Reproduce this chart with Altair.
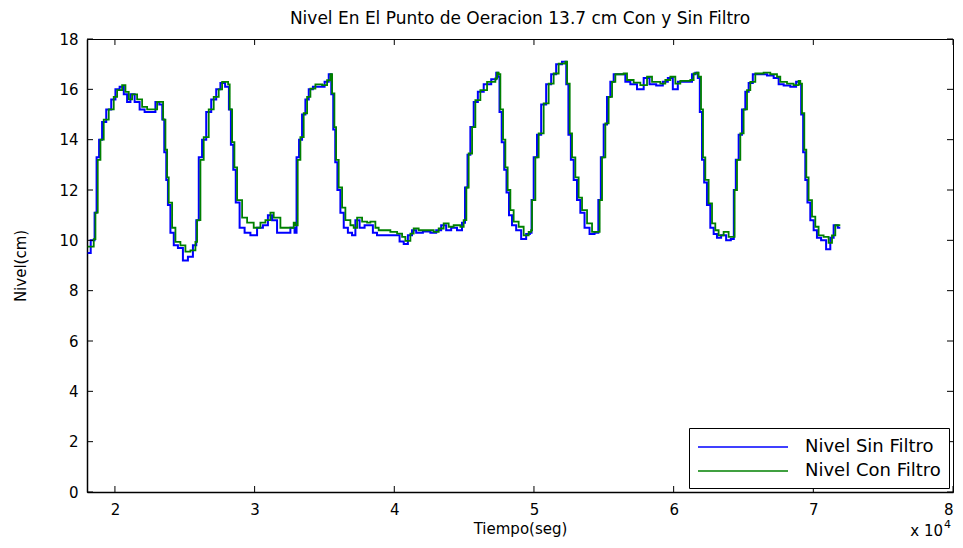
import altair as alt
import pandas as pd

# ---- data ----
tiempo = [18050, 18483, 18604, 18769, 18962, 19198, 19556, 19914, 20157, 20515,
          20752, 20988, 21231, 21589, 21947, 22305, 22777, 23021, 23328, 23450,
          23615, 23736, 23851, 24094, 24331, 24688, 25046, 25404, 25762, 25884,
          26120, 26356, 26714, 27072, 27430, 27673, 28103, 28217, 28389, 28554,
          28747, 29105, 29463, 29935, 30415, 30773, 31131, 31367, 31846, 32326,
          32798, 32920, 33085, 33278, 33514, 33758, 33994, 34352, 34831, 35189,
          35425, 35547, 35712, 35834, 36020, 36263, 36499, 36857, 37093, 37337,
          37695, 38053, 38289, 38646, 38883, 39720, 40200, 40558, 40794, 41152,
          41388, 41746, 42347, 42820, 43178, 43535, 43893, 44251, 44731, 44967,
          45160, 45325, 45569, 45804, 46162, 46642, 47236, 47358, 47472, 47594,
          47787, 47952, 48117, 48310, 48546, 48904, 49262, 49620, 49792, 49863,
          50099, 50336, 50694, 51051, 51409, 51767, 52251, 52373, 52559, 52726,
          52963, 53199, 53442, 53800, 54158, 54516, 54702, 54874, 55110, 55346,
          55590, 55826, 56420, 56663, 57136, 57615, 58095, 58453, 59047, 59405,
          59763, 60120, 60478, 61194, 61430, 61674, 61788, 61960, 62103, 62267,
          62504, 62748, 62983, 63220, 63578, 63936, 64251, 64365, 64537, 64773,
          65010, 65253, 65489, 65847, 66441, 66921, 67400, 67636, 68116, 68588,
          68946, 69068, 69190, 69354, 69498, 69662, 69906, 70142, 70378, 70736,
          71094, 71337, 71573, 71931]

con_filtro = [9.75, 10.05, 11.1, 13.2, 14.0, 14.8, 15.2, 15.7, 15.97, 16.17,
              15.9, 15.6, 15.8, 15.6, 15.3, 15.2, 15.2, 15.5, 15.5, 14.8,
              13.6, 12.5, 11.5, 10.5, 9.94, 9.8, 9.55, 9.6, 9.94, 10.8,
              13.2, 14.1, 15.2, 15.7, 16.0, 16.3, 16.2, 15.2, 13.9, 12.9,
              11.6, 10.9, 10.7, 10.5, 10.7, 10.8, 11.1, 10.9, 10.5, 10.5,
              10.7, 10.6, 13.2, 14.1, 15.05, 15.7, 16.03, 16.2, 16.17, 16.36,
              16.6, 15.84, 14.5, 13.2, 12.1, 11.3, 10.8, 10.6, 10.5, 10.9,
              10.74, 10.7, 10.74, 10.5, 10.4, 10.34, 10.27, 10.14, 9.98, 10.27,
              10.47, 10.4, 10.4, 10.34, 10.47, 10.67, 10.54, 10.6, 10.54, 10.8,
              12.1, 13.45, 14.5, 15.57, 15.97, 16.3, 16.43, 16.66, 16.6, 15.2,
              14.0, 12.9, 12.0, 11.2, 10.74, 10.54, 10.2, 10.34, 10.4, 11.6,
              13.3, 14.25, 15.44, 16.23, 16.63, 17.02, 17.1, 16.23, 14.25, 13.3,
              12.5, 11.7, 11.2, 10.67, 10.34, 10.34, 11.6, 13.3, 14.65, 15.7,
              16.3, 16.6, 16.63, 16.37, 16.27, 16.17, 16.5, 16.3, 16.23, 16.37,
              16.5, 16.23, 16.34, 16.37, 16.63, 16.66, 16.5, 15.2, 13.3, 12.4,
              11.47, 10.67, 10.4, 10.2, 10.34, 10.14, 10.14, 12.0, 13.2, 14.25,
              15.2, 15.97, 16.3, 16.63, 16.66, 16.6, 16.5, 16.3, 16.23, 16.17,
              16.34, 16.23, 15.05, 13.6, 12.5, 11.6, 10.94, 10.54, 10.2, 10.14,
              9.9, 10.2, 10.6, 10.6]

sin_filtro = [9.5, 10.0, 11.1, 13.3, 14.0, 14.7, 15.2, 15.6, 16.0, 16.1,
              15.8, 15.5, 15.8, 15.5, 15.2, 15.1, 15.1, 15.5, 15.4, 14.8,
              13.5, 12.4, 11.4, 10.3, 9.8, 9.7, 9.2, 9.35, 9.8, 10.8,
              13.3, 14.0, 15.1, 15.6, 16.0, 16.25, 16.1, 15.2, 13.8, 12.8,
              11.5, 10.5, 10.3, 10.2, 10.5, 10.6, 11.0, 10.8, 10.3, 10.3,
              10.5, 10.3, 13.3, 14.0, 15.0, 15.6, 16.0, 16.1, 16.1, 16.3,
              16.6, 15.8, 14.4, 13.1, 12.0, 11.1, 10.5, 10.3, 10.2, 10.8,
              10.5, 10.6, 10.6, 10.3, 10.2, 10.2, 10.2, 9.95, 9.85, 10.2,
              10.4, 10.3, 10.35, 10.3, 10.4, 10.6, 10.4, 10.5, 10.4, 10.7,
              12.1, 13.4, 14.5, 15.5, 15.9, 16.2, 16.4, 16.66, 16.5, 15.1,
              13.9, 12.8, 11.9, 11.0, 10.6, 10.4, 10.05, 10.25, 10.3, 11.6,
              13.3, 14.2, 15.4, 16.2, 16.6, 17.0, 17.1, 16.2, 14.2, 13.2,
              12.4, 11.6, 11.1, 10.5, 10.25, 10.3, 11.6, 13.3, 14.6, 15.7,
              16.3, 16.6, 16.6, 16.3, 16.2, 16.0, 16.45, 16.2, 16.15, 16.3,
              16.45, 16.0, 16.3, 16.3, 16.6, 16.66, 16.45, 15.1, 13.2, 12.3,
              11.4, 10.5, 10.25, 10.1, 10.2, 10.0, 10.05, 12.0, 13.2, 14.2,
              15.2, 15.9, 16.25, 16.6, 16.6, 16.55, 16.45, 16.2, 16.15, 16.1,
              16.3, 16.2, 15.0, 13.5, 12.4, 11.5, 10.8, 10.4, 10.1, 10.0,
              9.65, 10.1, 10.6, 10.5]

series = ["Nivel Sin Filtro", "Nivel Con Filtro"]
colors = ["#0000ff", "#008000"]
x_ticks = [20000, 30000, 40000, 50000, 60000, 70000, 80000]
y_ticks = [0, 2, 4, 6, 8, 10, 12, 14, 16, 18]
exponent_text = ["x 10", "4"]
title_text = "Nivel En El Punto de Oeracion 13.7 cm Con y Sin Filtro"

W, H = 866, 453
FONT = "DejaVu Sans"

n = len(tiempo)
df = pd.DataFrame({
    "t": tiempo + tiempo,
    "nivel": sin_filtro + con_filtro,
    "serie": [series[0]] * n + [series[1]] * n,
})
df_xt = pd.DataFrame({"t": x_ticks})
df_yt = pd.DataFrame({"nivel": y_ticks})

x_scale = alt.Scale(domain=[18000, 80000], nice=False, zero=False)
y_scale = alt.Scale(domain=[0, 18], nice=False, zero=False)

x_axis = alt.Axis(values=x_ticks, labelExpr="datum.value / 10000", title="Tiempo(seg)",
                  ticks=False, tickSize=0, labelPadding=10, titlePadding=4,
                  grid=False, domain=True, domainColor="black", domainWidth=1.5,
                  labelFont=FONT, titleFont=FONT, labelFontSize=15, titleFontSize=15,
                  labelColor="black", titleColor="black", titleFontWeight="normal")
y_axis = alt.Axis(values=y_ticks, title="Nivel(cm)", ticks=False, tickSize=0,
                  labelPadding=9, titlePadding=30, grid=False, domain=True,
                  domainColor="black", domainWidth=1.5,
                  labelFont=FONT, titleFont=FONT, labelFontSize=15, titleFontSize=15,
                  labelColor="black", titleColor="black", titleFontWeight="normal")

X = alt.X("t:Q", scale=x_scale, axis=x_axis)
Y = alt.Y("nivel:Q", scale=y_scale, axis=y_axis)

color = alt.Color(
    "serie:N",
    scale=alt.Scale(domain=series, range=colors),
    sort=series,
    legend=alt.Legend(title=None, orient="bottom-right", offset=4,
                      symbolType="M-1,0H8", symbolSize=400, symbolStrokeWidth=1.5,
                      labelFont=FONT, labelFontSize=18, labelColor="black",
                      labelOffset=86, padding=8, rowPadding=4, fillColor="white",
                      strokeColor="black"),
)

base = alt.Chart(df)
blue = base.transform_filter(alt.datum.serie == series[0]).mark_line(
    interpolate="step", strokeWidth=2).encode(x=X, y=Y, color=color)
green = base.transform_filter(alt.datum.serie == series[1]).mark_line(
    interpolate="step-after", strokeWidth=1.8).encode(x=X, y=Y, color=color)

xt_bottom = alt.Chart(df_xt).mark_rule(color="black").encode(
    x=X, y=alt.value(H), y2=alt.value(H - 6))
xt_top = alt.Chart(df_xt).mark_rule(color="black").encode(
    x=X, y=alt.value(0), y2=alt.value(6))
yt_left = alt.Chart(df_yt).mark_rule(color="black").encode(
    y=Y, x=alt.value(0), x2=alt.value(6))
yt_right = alt.Chart(df_yt).mark_rule(color="black").encode(
    y=Y, x=alt.value(W), x2=alt.value(W - 6))

exp_base = alt.Chart(pd.DataFrame({"s": [exponent_text[0]]})).mark_text(
    align="right", baseline="alphabetic", font=FONT, fontSize=15, color="black"
).encode(text="s:N", x=alt.value(W - 10), y=alt.value(H + 44))
exp_sup = alt.Chart(pd.DataFrame({"s": [exponent_text[1]]})).mark_text(
    align="left", baseline="alphabetic", font=FONT, fontSize=11, color="black"
).encode(text="s:N", x=alt.value(W - 9), y=alt.value(H + 36))

chart = alt.layer(
    blue, green, xt_bottom, xt_top, yt_left, yt_right, exp_base, exp_sup
).properties(
    width=W, height=H,
    title=alt.TitleParams(title_text, font=FONT, fontSize=17, fontWeight="normal",
                          color="black", offset=4, anchor="middle"),
    padding={"left": 79, "top": 31, "right": 2, "bottom": 48},
    autosize=alt.AutoSizeParams(type="none"),
    background="white",
).configure_view(
    stroke="black", strokeWidth=1
)

chart.save("out.html", embed_options={"renderer": "svg", "actions": False})
